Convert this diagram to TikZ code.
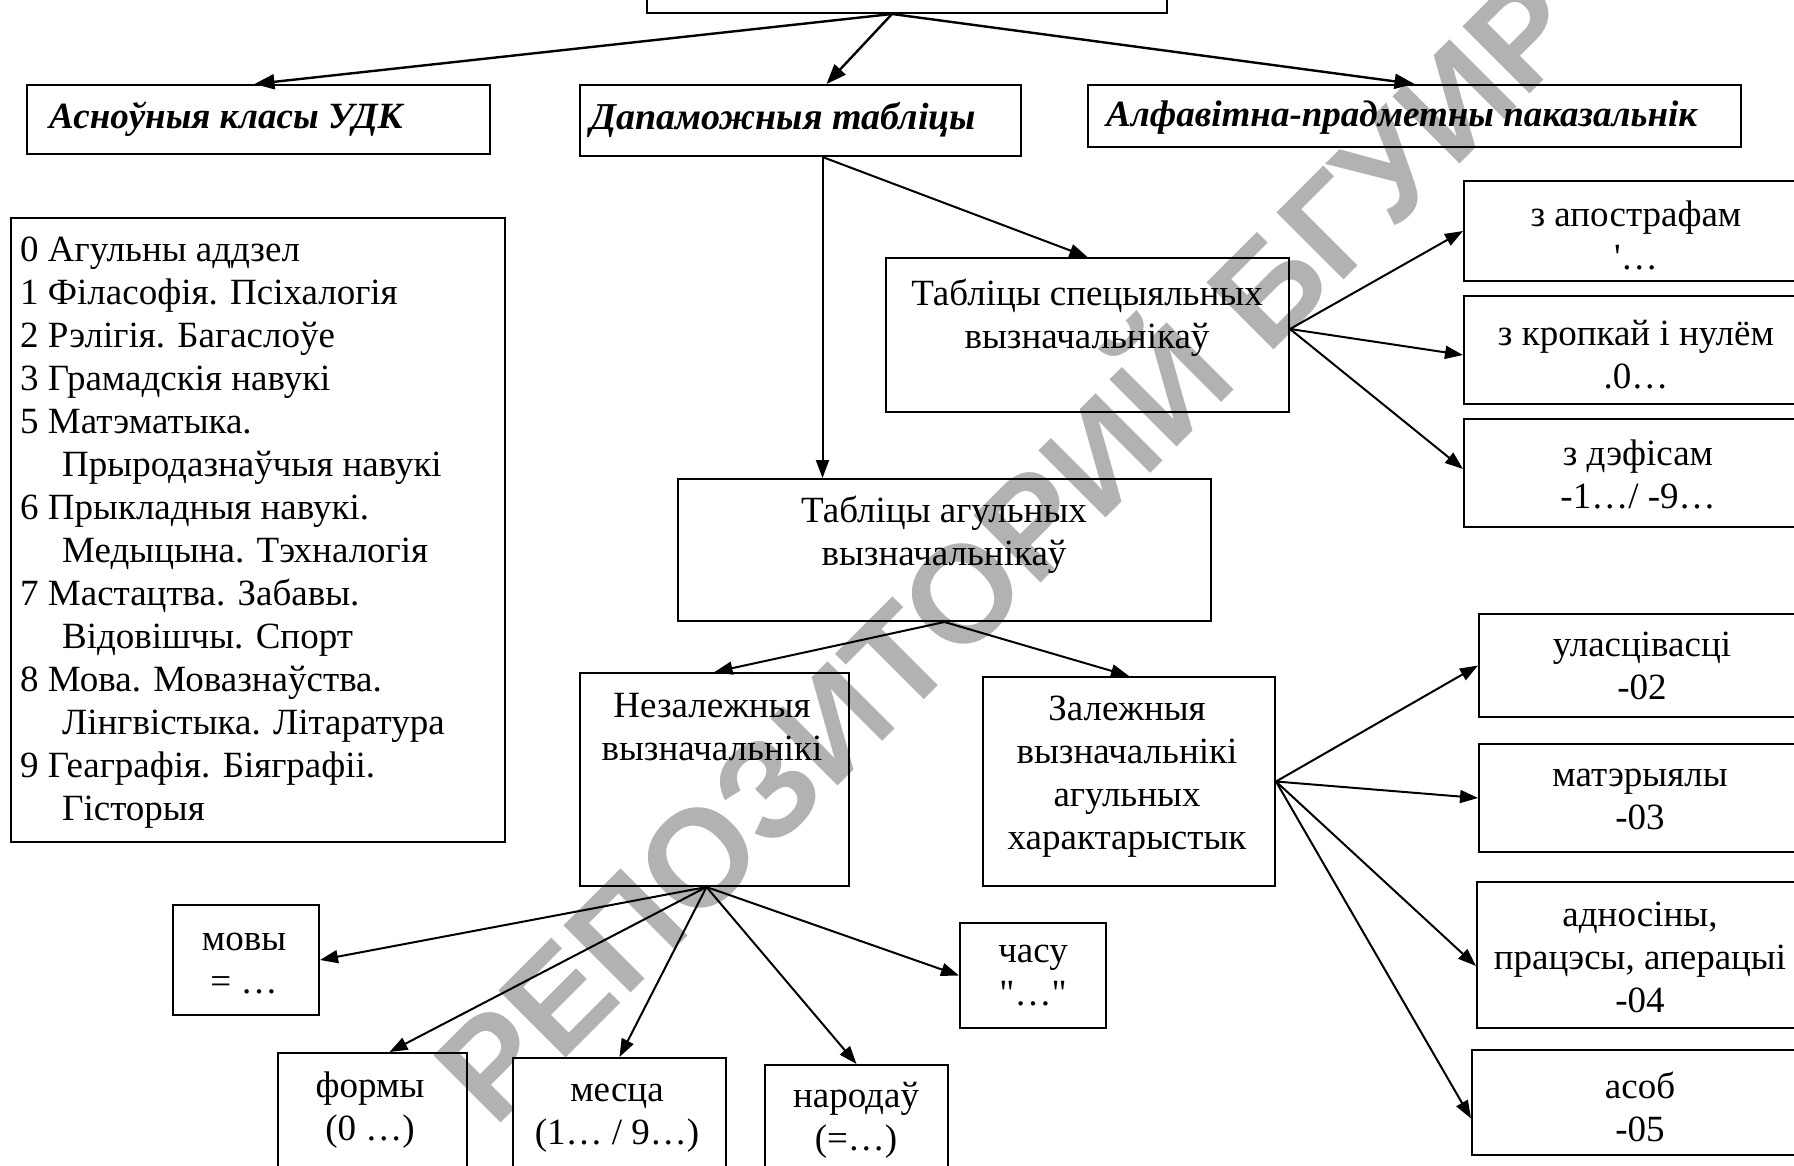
\documentclass[tikz,border=0pt]{standalone}
\usepackage{fontspec}
\setmainfont{Liberation Serif}
\newfontfamily\wmfont{Liberation Sans}
\usetikzlibrary{arrows.meta,calc}
\begin{document}
\begin{tikzpicture}[x=1pt,y=-1pt,
  box/.style={draw, line width=2pt, rectangle, inner sep=0pt, anchor=north west},
  txt/.style={font=\fontsize{37}{43}\selectfont, align=center, inner sep=0pt},
  hd/.style={font=\fontsize{37}{43}\selectfont\bfseries\itshape, inner sep=0pt, anchor=west},
  conn/.style={line width=2pt, -{Triangle[length=18pt,width=13pt]}},
  connb/.style={line width=2.4pt, -{Triangle[length=20pt,width=15pt]}},
]
\clip (0,0) rectangle (1794,1166);
\fill[white] (0,0) rectangle (1794,1166);
% watermark
\node[font=\wmfont\bfseries\fontsize{138}{138}\selectfont, text=black!30, rotate=45, anchor=base west, inner sep=0pt] (wm) at (494,1130) {РЕПОЗИТОРИЙ БГУИР};

% boxes
\node[box, minimum width=520pt, minimum height=42pt] (top) at (646,-30) {};
\node[box, minimum width=463pt, minimum height=69pt] (asn) at (26,84) {};
\node[box, minimum width=441pt, minimum height=71pt] (dap) at (579,84) {};
\node[box, minimum width=653pt, minimum height=62pt] (alf) at (1087,84) {};
\node[box, minimum width=494pt, minimum height=624pt] (list) at (10,217) {};
\node[box, minimum width=403pt, minimum height=154pt] (spec) at (885,257) {};
\node[box, minimum width=370pt, minimum height=100pt] (apos) at (1463,180) {};
\node[box, minimum width=370pt, minimum height=108pt] (krop) at (1463,295) {};
\node[box, minimum width=370pt, minimum height=108pt] (defis) at (1463,418) {};
\node[box, minimum width=533pt, minimum height=142pt] (agul) at (677,478) {};
\node[box, minimum width=269pt, minimum height=213pt] (nez) at (579,672) {};
\node[box, minimum width=292pt, minimum height=209pt] (zal) at (982,676) {};
\node[box, minimum width=360pt, minimum height=103pt] (ulas) at (1478,613) {};
\node[box, minimum width=360pt, minimum height=108pt] (mater) at (1478,743) {};
\node[box, minimum width=360pt, minimum height=146pt] (adnos) at (1476,881) {};
\node[box, minimum width=360pt, minimum height=105pt] (asob) at (1471,1049) {};
\node[box, minimum width=146pt, minimum height=110pt] (movy) at (172,904) {};
\node[box, minimum width=146pt, minimum height=105pt] (chasu) at (959,922) {};
\node[box, minimum width=189pt, minimum height=150pt] (formy) at (277,1052) {};
\node[box, minimum width=213pt, minimum height=150pt] (mesca) at (512,1057) {};
\node[box, minimum width=183pt, minimum height=150pt] (narod) at (764,1064) {};

% texts
\node[hd] (asn-t) at (49,119) {Асноўныя класы УДК};
\node[hd, font=\fontsize{38}{43}\selectfont\bfseries\itshape] (dap-t) at (590,120) {Дапаможныя табліцы};
\node[hd] (alf-t) at (1106,118) {Алфавітна-прадметны паказальнік};
\node[txt, align=left, anchor=west] (list-t) at (20,532) {\strut 0 Агульны аддзел\\
\strut 1 Філасофія. Псіхалогія\\
\strut 2 Рэлігія. Багаслоўе\\
\strut 3 Грамадскія навукі\\
\strut 5 Матэматыка.\\
\strut\hspace*{42pt}Прыродазнаўчыя навукі\\
\strut 6 Прыкладныя навукі.\\
\strut\hspace*{42pt}Медыцына. Тэхналогія\\
\strut 7 Мастацтва. Забавы.\\
\strut\hspace*{42pt}Відовішчы. Спорт\\
\strut 8 Мова. Мовазнаўства.\\
\strut\hspace*{42pt}Лінгвістыка. Літаратура\\
\strut 9 Геаграфія. Біяграфіі.\\
\strut\hspace*{42pt}Гісторыя};
\node[txt] (spec-t) at (1087,318) {\strut Табліцы спецыяльных\\\strut вызначальнікаў};
\node[txt] (apos-t) at (1636,239) {\strut з апострафам\\\strut \textquotesingle…};
\node[txt] (krop-t) at (1636,358) {\strut з кропкай і нулём\\\strut .0…};
\node[txt] (defis-t) at (1638,478) {\strut з дэфісам\\\strut -1…/ -9…};
\node[txt] (agul-t) at (944,535) {\strut Табліцы агульных\\\strut вызначальнікаў};
\node[txt] (nez-t) at (712,730) {\strut Незалежныя\\\strut вызначальнікі};
\node[txt] (zal-t) at (1127,776) {\strut Залежныя\\\strut вызначальнікі\\\strut агульных\\\strut характарыстык};
\node[txt] (ulas-t) at (1642,669) {\strut уласцівасці\\\strut -02};
\node[txt] (mater-t) at (1640,799) {\strut матэрыялы\\\strut -03};
\node[txt] (adnos-t) at (1640,961) {\strut адносіны,\\\strut працэсы, аперацыі\\\strut -04};
\node[txt] (asob-t) at (1640,1111) {\strut асоб\\\strut -05};
\node[txt] (movy-t) at (244,963) {\strut мовы\\\strut = …};
\node[txt] (formy-t) at (370,1110) {\strut формы\\\strut (0 …)};
\node[txt] (mesca-t) at (617,1114) {\strut месца\\\strut (1… / 9…)};
\node[txt] (narod-t) at (856,1120) {\strut народаў\\\strut (=…)};
\node[txt] (chasu-t) at (1033,975) {\strut часу\\\strut \textquotedbl…\textquotedbl};

% connectors
\draw[connb] ([xshift=-15pt]top.south) -- ([xshift=-4pt]asn.north);
\draw[connb] ([xshift=-15pt]top.south) -- ([xshift=26pt]dap.north);
\draw[connb] ([xshift=-15pt]top.south) -- (alf.north);
\draw[conn] ([xshift=22pt]dap.south) -- (spec.north);
\draw[conn] ([xshift=22pt]dap.south) -- ([xshift=22pt]dap.south |- agul.north);
\draw[conn] ([yshift=6pt]spec.east) -- (apos.west);
\draw[conn] ([yshift=6pt]spec.east) -- ([yshift=-5pt]krop.west);
\draw[conn] ([yshift=6pt]spec.east) -- ([yshift=4pt]defis.west);
\draw[conn] (agul.south) -- (nez.north);
\draw[conn] (agul.south) -- (zal.north);
\draw[conn] ([xshift=-8pt]nez.south) -- (movy.east);
\draw[conn] ([xshift=-8pt]nez.south) -- ([xshift=17pt]formy.north);
\draw[conn] ([xshift=-8pt]nez.south) -- (mesca.north);
\draw[conn] ([xshift=-8pt]nez.south) -- (narod.north);
\draw[conn] ([xshift=-8pt]nez.south) -- (chasu.west);
\draw[conn] (zal.east) -- (ulas.west);
\draw[conn] (zal.east) -- (mater.west);
\draw[conn] (zal.east) -- ([yshift=-11pt]adnos.west);
\draw[conn] (zal.east) -- ([yshift=-16pt]asob.west);
\end{tikzpicture}
\end{document}
